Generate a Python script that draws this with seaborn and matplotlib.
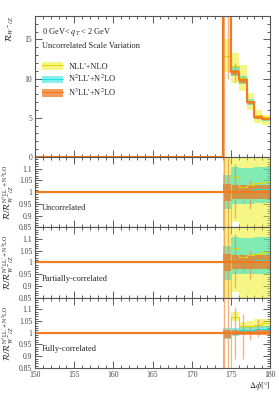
import matplotlib
matplotlib.use("Agg")
import matplotlib.pyplot as plt
import seaborn as sns
from matplotlib.patches import Patch
from matplotlib.lines import Line2D
from matplotlib.ticker import MultipleLocator, FixedLocator

# bin edges in delta phi [deg]
edges = [150, 174, 175, 176, 177, 178, 179, 180]

# main panel: R_{W-/Z}
main_nll = [0, 12.9, 11.6, 10.1, 7.2, 5.3, 5.1]
main_nll_lo = [0, 10.8, 9.5, 8.4, 6.0, 4.4, 4.1]
main_nll_hi = [0, 15.0, 13.3, 11.8, 8.2, 6.0, 5.4]
main_n2ll = [0, 40.0, 10.9, 9.85, 7.05, 5.15, 4.9]
main_n2ll_lo = [0, 37.0, 10.35, 9.35, 6.7, 4.9, 4.65]
main_n2ll_hi = [0, 43.0, 11.45, 10.35, 7.4, 5.4, 5.15]
main_n3ll = [0, 40.0, 10.8, 9.8, 7.0, 5.05, 4.85]
main_n3ll_lo = [0, 38.5, 10.5, 9.5, 6.8, 4.9, 4.7]
main_n3ll_hi = [0, 41.5, 11.1, 10.1, 7.2, 5.2, 5.0]
main_err_x = [174.1, 174.6, 175.5, 176.5, 177.5, 178.5, 179.5]
main_err_lo = [0, 9.9, 9.6, 9.5, 6.8, 4.9, 4.7]
main_err_hi = [60, 60, 12.0, 10.4, 7.2, 5.2, 5.0]

# ratio panels: uncorrelated
unc_nll = [1, 0.35, 1.063, 1.022, 1.03, 1.038, 1.045]
unc_nll_lo = [1, 0.20, 0.873, 0.80, 0.80, 0.80, 0.80]
unc_nll_hi = [1, 1.30, 1.25, 1.25, 1.25, 1.25, 1.25]
unc_n2ll = [1, 1.0, 1.005, 1.0, 1.005, 1.012, 1.012]
unc_n2ll_lo = [1, 0.927, 0.95, 0.95, 0.95, 0.952, 0.952]
unc_n2ll_hi = [1, 1.072, 1.107, 1.105, 1.105, 1.107, 1.107]
unc_n3ll_lo = [1, 0.962, 0.97, 0.97, 0.97, 0.97, 0.97]
unc_n3ll_hi = [1, 1.035, 1.03, 1.03, 1.03, 1.03, 1.03]
unc_err_lo = [0.5, 0.5, 0.89, 0.96, 0.93, 0.99, 0.98]
unc_err_hi = [1.5, 1.5, 1.12, 1.03, 1.05, 1.03, 1.02]

# partially-correlated
par_nll = [1, 0.35, 1.063, 1.022, 1.03, 1.038, 1.045]
par_nll_lo = [1, 0.20, 0.875, 0.80, 0.80, 0.80, 0.80]
par_nll_hi = [1, 1.30, 1.25, 1.25, 1.25, 1.25, 1.25]
par_n2ll = [1, 1.0, 1.005, 1.0, 1.005, 1.012, 1.012]
par_n2ll_lo = [1, 0.927, 0.95, 0.95, 0.95, 0.952, 0.952]
par_n2ll_hi = [1, 1.072, 1.107, 1.105, 1.105, 1.107, 1.107]
par_n3ll_lo = [1, 0.962, 0.97, 0.97, 0.97, 0.97, 0.97]
par_n3ll_hi = [1, 1.035, 1.03, 1.03, 1.03, 1.03, 1.03]
par_err_lo = [0.5, 0.5, 0.89, 0.96, 0.93, 0.99, 0.98]
par_err_hi = [1.5, 1.5, 1.12, 1.03, 1.05, 1.03, 1.02]

# fully-correlated
ful_nll = [1, 0.35, 1.066, 1.03, 1.03, 1.035, 1.04]
ful_nll_lo = [1, 0.25, 1.05, 1.01, 1.015, 1.02, 1.02]
ful_nll_hi = [1, 0.50, 1.088, 1.045, 1.05, 1.06, 1.06]
ful_n2ll = [1, 0.998, 1.005, 1.01, 1.012, 1.015, 1.015]
ful_n2ll_lo = [1, 0.975, 0.985, 0.995, 0.995, 0.997, 0.997]
ful_n2ll_hi = [1, 1.02, 1.02, 1.03, 1.03, 1.03, 1.03]
ful_n3ll_lo = [1, 0.977, 0.99, 0.99, 0.99, 0.99, 0.99]
ful_n3ll_hi = [1, 1.012, 1.01, 1.01, 1.01, 1.01, 1.01]
ful_err_lo = [0.5, 0.5, 0.89, 0.89, 0.97, 0.98, 0.99]
ful_err_hi = [1.5, 1.5, 1.11, 1.08, 1.03, 1.06, 1.01]

labels = ["NLL'+NLO", "N$^2$LL'+N$^2$LO", "N$^3$LL'+N$^2$LO"]
fills = ["#eeee10", "#10e0e0", "#f07018"]
fill_alpha = [0.5, 0.5, 0.7]
lines = ["#e0d800", "#20e0e0", "#f47a1c"]

sns.set_style("ticks")
plt.rcParams["font.family"] = ["Liberation Serif", "DejaVu Serif"]
plt.rcParams["mathtext.fontset"] = "stix"


def st(v):
    return list(v) + [v[-1]]


def draw(ax, centrals, los, his, err_lo, err_hi):
    for k in range(3):
        ax.fill_between(edges, st(los[k]), st(his[k]), step="post",
                        color=fills[k], alpha=fill_alpha[k], lw=0)
    for k in range(3):
        sns.lineplot(x=edges, y=st(centrals[k]), drawstyle="steps-post",
                     color=lines[k], lw=1.5 if k == 2 else 0.8, ax=ax,
                     zorder=4 if k == 2 else 3)
    ax.vlines(main_err_x, err_lo, err_hi, color="#f08a40", alpha=0.65, lw=1.0,
              zorder=3)


def style(ax):
    ax.set_xlim(150, 180)
    ax.xaxis.set_major_locator(MultipleLocator(5))
    ax.xaxis.set_minor_locator(MultipleLocator(1))
    ax.tick_params(which="both", direction="in", top=True, right=True,
                   width=0.6, colors="#444444", labelsize=5.5, pad=2)
    ax.tick_params(which="major", length=5)
    ax.tick_params(which="minor", length=2.5)
    for s in ax.spines.values():
        s.set_color("#555555")
        s.set_linewidth(0.8)
        s.set_zorder(5)


fig = plt.figure(figsize=(2.79, 3.93), dpi=100)
left, width = 35 / 279, 235 / 279
H = 393
ax0 = fig.add_axes([left, 1 - 157 / H, width, 141 / H])
ratio_axes = []
for i in range(3):
    top = 157 + i * 70.3
    ratio_axes.append(fig.add_axes([left, 1 - (top + 70.3) / H, width, 70.3 / H]))

# main panel
draw(ax0, [main_nll, main_n2ll, main_n3ll],
     [main_nll_lo, main_n2ll_lo, main_n3ll_lo],
     [main_nll_hi, main_n2ll_hi, main_n3ll_hi], main_err_lo, main_err_hi)
style(ax0)
ax0.set_ylim(0, 18)
ax0.yaxis.set_major_locator(MultipleLocator(5))
ax0.yaxis.set_minor_locator(MultipleLocator(1))
ax0.set_xticklabels([])
ax0.set_xlabel("")
ax0.set_ylabel(r"$\mathcal{R}_{W^-/Z}$", fontsize=6.5, loc="top", labelpad=6)
ax0.text(0.03, 0.89, r"0 GeV< $q_T$ < 2 GeV", transform=ax0.transAxes,
         fontsize=6, va="center")
ax0.text(0.03, 0.785, "Uncorrelated Scale Variation", transform=ax0.transAxes,
         fontsize=6, va="center")
handles = [(Patch(facecolor=fills[k], alpha=fill_alpha[k], lw=0),
            Line2D([], [], color=lines[k], lw=0.8)) for k in range(3)]
ax0.legend(handles, labels, loc="upper left", bbox_to_anchor=(0.0, 0.72),
           frameon=False, fontsize=6, handlelength=2.6, handleheight=1.0,
           labelspacing=0.25, handletextpad=0.6, borderaxespad=0.4)

ones = [1] * len(main_nll)
panels = [
    ("Uncorrelated", unc_nll, unc_nll_lo, unc_nll_hi, unc_n2ll, unc_n2ll_lo, unc_n2ll_hi,
     unc_n3ll_lo, unc_n3ll_hi, unc_err_lo, unc_err_hi),
    ("Partially-correlated", par_nll, par_nll_lo, par_nll_hi, par_n2ll, par_n2ll_lo, par_n2ll_hi,
     par_n3ll_lo, par_n3ll_hi, par_err_lo, par_err_hi),
    ("Fully-correlated", ful_nll, ful_nll_lo, ful_nll_hi, ful_n2ll, ful_n2ll_lo, ful_n2ll_hi,
     ful_n3ll_lo, ful_n3ll_hi, ful_err_lo, ful_err_hi),
]
for ax, p in zip(ratio_axes, panels):
    name, a, alo, ahi, b, blo, bhi, clo, chi, elo, ehi = p
    draw(ax, [a, b, ones], [alo, blo, clo], [ahi, bhi, chi], elo, ehi)
    style(ax)
    ax.set_ylim(0.85, 1.15)
    ax.yaxis.set_major_locator(FixedLocator([0.85, 0.9, 0.95, 1.0, 1.05, 1.1]))
    ax.yaxis.set_minor_locator(MultipleLocator(0.01))
    ax.set_yticklabels(["0.85", "0.9", "0.95", "1", "1.05", "1.1"])
    ax.set_ylabel(r"$\mathcal{R}/\mathcal{R}^{\mathrm{N^3LL'+N^2LO}}_{W^-/Z}$",
                  fontsize=6.2, labelpad=2)
    ax.text(0.03, 0.27, name, transform=ax.transAxes, fontsize=6, va="center")
    ax.set_xlabel("")
    if ax is not ratio_axes[-1]:
        ax.set_xticklabels([])

ratio_axes[-1].set_xlabel(r"$\Delta\phi[°]$", fontsize=6, loc="right", labelpad=1)
fig.align_ylabels(ratio_axes)

fig.savefig("out.png", dpi=100)
